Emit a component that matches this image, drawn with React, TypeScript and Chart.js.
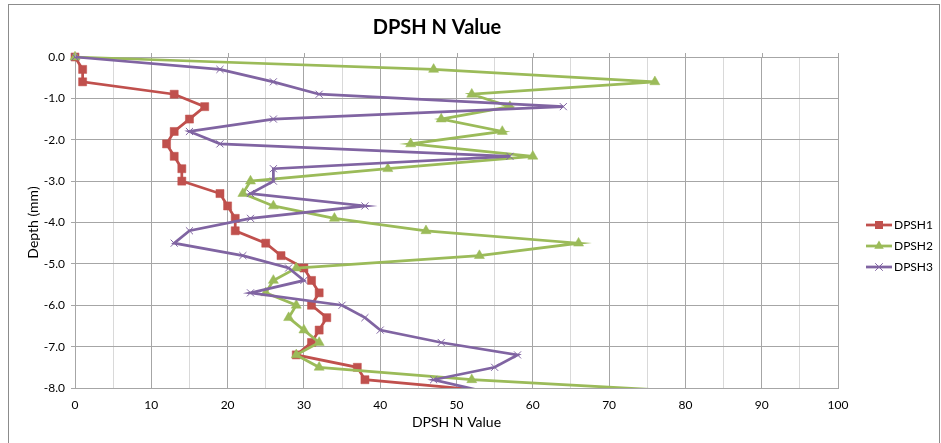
import React, { useEffect, useRef } from "react";
import { Chart, registerables } from "chart.js";

Chart.register(...registerables);

// ---- data ----
const depths = [0, -0.3, -0.6, -0.9, -1.2, -1.5, -1.8, -2.1, -2.4, -2.7, -3.0, -3.3, -3.6, -3.9, -4.2, -4.5, -4.8, -5.1, -5.4, -5.7, -6.0, -6.3, -6.6, -6.9, -7.2, -7.5, -7.8, -8.1];
const dpsh1 = [0, 1, 1, 13, 17, 15, 13, 12, 13, 14, 14, 19, 20, 21, 21, 25, 27, 30, 31, 32, 31, 33, 32, 31, 29, 37, 38, 56];
const dpsh2 = [0, 47, 76, 52, 57, 48, 56, 44, 60, 41, 23, 22, 26, 34, 46, 66, 53, 29, 26, 25, 29, 28, 30, 32, 29, 32, 52, 82];
const dpsh3 = [0, 19, 26, 32, 64, 26, 15, 19, 57, 26, 26, 23, 38, 23, 15, 13, 22, 28, 30, 23, 35, 38, 40, 48, 58, 55, 47, 54];
const seriesNames = ["DPSH1", "DPSH2", "DPSH3"];
const chartTitle = "DPSH N Value";
const xAxisTitle = "DPSH N Value";
const yAxisTitle = "Depth (mm)";
const xMin = 0;
const xMax = 100;
const xStep = 5;
const xLabelStep = 10;
const yMin = -8;
const yMax = 0;
const yStep = 1;

const colors = ["#C0504D", "#9BBB59", "#8064A2"];
const FONT = "Lato, 'Open Sans', 'DejaVu Sans', sans-serif";
const MAJOR = "#a6a6a6";
const MINOR = "#d9d9d9";

function drawMarker(ctx: CanvasRenderingContext2D, kind: number, cx: number, cy: number, color: string) {
  ctx.save();
  ctx.fillStyle = color;
  ctx.strokeStyle = color;
  if (kind === 0) {
    ctx.fillRect(cx - 4, cy - 4, 8, 8);
  } else if (kind === 1) {
    const r = 5.5;
    ctx.beginPath();
    ctx.moveTo(cx, cy - r);
    ctx.lineTo(cx + r * 0.866, cy + r * 0.5);
    ctx.lineTo(cx - r * 0.866, cy + r * 0.5);
    ctx.closePath();
    ctx.fill();
  } else {
    const r = 3.8;
    ctx.lineWidth = 1;
    ctx.beginPath();
    ctx.moveTo(cx - r, cy - r);
    ctx.lineTo(cx + r, cy + r);
    ctx.moveTo(cx + r, cy - r);
    ctx.lineTo(cx - r, cy + r);
    ctx.stroke();
  }
  ctx.restore();
}

const decorPlugin = {
  id: "decor",
  beforeDraw(chart: any) {
    const ctx = chart.ctx as CanvasRenderingContext2D;
    ctx.save();
    ctx.fillStyle = "#ffffff";
    ctx.fillRect(0, 0, chart.width, chart.height);
    ctx.strokeStyle = "#8c8c8c";
    ctx.lineWidth = 1;
    ctx.strokeRect(8.5, 4.5, 931, 480);
    ctx.restore();
  },
  afterDraw(chart: any) {
    const ctx = chart.ctx as CanvasRenderingContext2D;
    const area = chart.chartArea;
    const xs = chart.scales.x;
    ctx.save();
    ctx.strokeStyle = MAJOR;
    ctx.lineWidth = 1;
    for (const t of xs.ticks) {
      if (t.value % xLabelStep !== 0) continue;
      const px = Math.round(xs.getPixelForValue(t.value)) + 0.5;
      ctx.beginPath();
      ctx.moveTo(px, area.top - 4);
      ctx.lineTo(px, area.top);
      ctx.stroke();
    }
    ctx.fillStyle = "#000";
    ctx.font = `bold 20px ${FONT}`;
    ctx.textAlign = "center";
    ctx.textBaseline = "middle";
    ctx.fillText(chartTitle, 437, 28);
    ctx.font = `12px ${FONT}`;
    ctx.textAlign = "left";
    chart.data.datasets.forEach((ds: any, i: number) => {
      const y = 225 + i * 21;
      ctx.strokeStyle = ds.borderColor;
      ctx.lineWidth = 2.75;
      ctx.beginPath();
      ctx.moveTo(866, y);
      ctx.lineTo(892, y);
      ctx.stroke();
      drawMarker(ctx, i, 879, y, ds.borderColor);
      ctx.fillStyle = "#000";
      ctx.fillText(ds.label, 894, y + 0.5);
    });
    ctx.restore();
  },
};

export default function App() {
  const ref = useRef<HTMLCanvasElement>(null);
  useEffect(() => {
    if (!ref.current) return;
    const series = [dpsh1, dpsh2, dpsh3];
    const styles = ["rect", "triangle", "crossRot"];
    const radii = [5.7, 5.8, 5];
    const chart = new Chart(ref.current, {
      type: "line",
      data: {
        datasets: series.map((vals, i) => ({
          label: seriesNames[i],
          data: vals.map((v, k) => ({ x: v, y: depths[k] })),
          borderColor: colors[i],
          backgroundColor: colors[i],
          pointBackgroundColor: colors[i],
          pointBorderColor: colors[i],
          pointStyle: styles[i] as any,
          pointRadius: (c: any) => (c.raw && c.raw.y < yMin ? 0 : radii[i]),
          pointBorderWidth: i === 2 ? 1 : 0.5,
          borderWidth: 2.75,
          tension: 0,
          fill: false,
          order: 3 - i,
          clip: { left: 10, top: 10, right: 10, bottom: 0 } as any,
        })),
      },
      plugins: [decorPlugin as any],
      options: {
        responsive: false,
        animation: false,
        devicePixelRatio: 1,
        layout: { padding: { top: 57, right: 103, left: 0, bottom: 0 } },
        plugins: {
          legend: { display: false },
          title: { display: false },
          tooltip: { enabled: false },
        },
        scales: {
          x: {
            type: "linear",
            min: xMin,
            max: xMax,
            afterFit: (s: any) => {
              s.height = 55;
            },
            ticks: {
              stepSize: xStep,
              autoSkip: false,
              maxRotation: 0,
              padding: 10,
              color: "#000",
              font: { family: FONT, size: 12 },
              callback: (v: any) => (Number(v) % xLabelStep === 0 ? String(v) : ""),
            },
            grid: {
              drawTicks: false,
              color: (c: any) => (c.tick && c.tick.value % xLabelStep === 0 ? MAJOR : MINOR),
              lineWidth: 1,
            },
            border: { color: MAJOR },
            title: {
              display: true,
              text: xAxisTitle,
              color: "#000",
              font: { family: FONT, size: 14 },
              padding: { top: 0, bottom: 12 },
            },
          },
          y: {
            type: "linear",
            min: yMin,
            max: yMax,
            afterFit: (s: any) => {
              s.width = 75;
            },
            ticks: {
              stepSize: yStep,
              padding: 6,
              color: "#000",
              font: { family: FONT, size: 12 },
              callback: (v: any) => Number(v).toFixed(1),
            },
            grid: { color: MAJOR, tickLength: 4, lineWidth: 1 },
            border: { color: MAJOR },
            title: {
              display: true,
              text: yAxisTitle,
              color: "#000",
              font: { family: FONT, size: 14 },
              padding: { top: 25, bottom: 0 },
            },
          },
        },
      },
    } as any);
    return () => chart.destroy();
  }, []);
  return (
    <canvas
      ref={ref}
      width={941}
      height={443}
      style={{ position: "absolute", left: 0, top: 0, width: 941, height: 443 }}
    />
  );
}
